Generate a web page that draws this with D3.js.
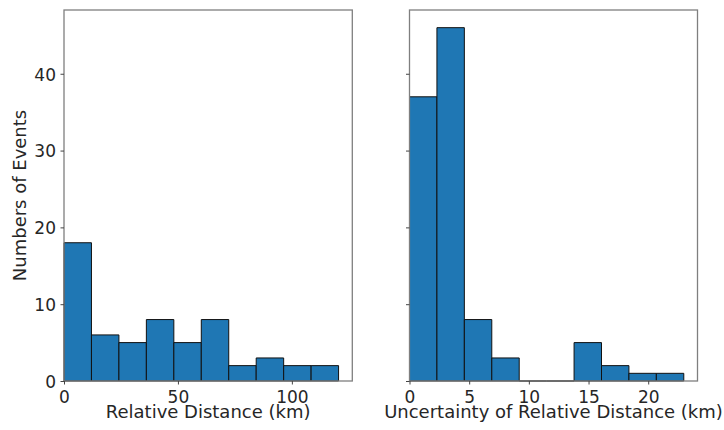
<!DOCTYPE html>
<html>
<head>
<meta charset="utf-8">
<script src="https://cdn.jsdelivr.net/npm/d3@7"></script>
<style>
  html, body { margin: 0; padding: 0; background: #fff; }
  svg { display: block; }
  text { font-family: "DejaVu Sans", sans-serif; fill: #262626; }
</style>
</head>
<body>
<svg id="chart" width="724" height="430"></svg>
<script>
// ---- data ----
const distEdges = [0, 12.05, 24.1, 36.15, 48.2, 60.25, 72.3, 84.35, 96.4, 108.45, 120.5];
const distCounts = [18, 6, 5, 8, 5, 8, 2, 3, 2, 2];
const uncEdges = [0, 2.298, 4.596, 6.894, 9.192, 11.49, 13.788, 16.086, 18.384, 20.682, 22.98];
const uncCounts = [37, 46, 8, 3, 0, 0, 5, 2, 1, 1];
const distTicks = [0, 50, 100];
const uncTicks = [0, 5, 10, 15, 20];
const yTicks = [0, 10, 20, 30, 40];
const yLabel = "Numbers of Events";
const distLabel = "Relative Distance (km)";
const uncLabel = "Uncertainty of Relative Distance (km)";

const svg = d3.select("#chart");
const plotTop = 10, plotBottom = 381;
const tickFont = 17, labelFont = 18;
const yMax = d3.max(uncCounts.concat(distCounts)) * 1.05;
const y = d3.scaleLinear().domain([0, yMax]).range([plotBottom, plotTop]);

function panel(left, right, edges, counts, ticks, label, showYLabels) {
  const xMax = edges[edges.length - 1] * 1.05;
  const x = d3.scaleLinear().domain([0, xMax]).range([left, right]);
  const g = svg.append("g");
  const bins = counts.map((c, i) => ({ x0: edges[i], x1: edges[i + 1], c }));
  g.selectAll("path.bar").data(bins).join("path")
    .attr("class", "bar")
    .attr("d", d => `M${x(d.x0)},${y(0)}V${y(d.c)}H${x(d.x1)}V${y(0)}Z`)
    .attr("fill", "#1f77b4")
    .attr("stroke", "#111")
    .attr("stroke-width", 1);

  // frame
  g.append("rect")
    .attr("x", left).attr("y", plotTop)
    .attr("width", right - left).attr("height", plotBottom - plotTop)
    .attr("fill", "none").attr("stroke", "#7f7f7f").attr("stroke-width", 1.3);

  const xAxis = d3.axisBottom(x).tickValues(ticks).tickSize(3.5).tickPadding(3.5).tickFormat(d3.format("d"));
  const gx = g.append("g").attr("transform", `translate(0,${plotBottom})`).call(xAxis);
  gx.select(".domain").remove();
  gx.selectAll(".tick line").attr("stroke", "#444");
  gx.selectAll(".tick text").attr("font-size", tickFont).attr("fill", "#262626")
    .attr("font-family", "DejaVu Sans, sans-serif").attr("y", 21.7).attr("dy", 0);

  const yAxis = d3.axisLeft(y).tickValues(yTicks).tickSize(3.5).tickPadding(4.5)
    .tickFormat(showYLabels ? d3.format("d") : () => "");
  const gy = g.append("g").attr("transform", `translate(${left},0)`).call(yAxis);
  gy.select(".domain").remove();
  gy.selectAll(".tick line").attr("stroke", "#444");
  gy.selectAll(".tick text").attr("font-size", tickFont).attr("fill", "#262626")
    .attr("font-family", "DejaVu Sans, sans-serif").attr("dy", "0.37em");

  g.append("text")
    .attr("x", (left + right) / 2).attr("y", 418)
    .attr("text-anchor", "middle").attr("font-size", labelFont)
    .text(label);
}

panel(64, 352.3, distEdges, distCounts, distTicks, distLabel, true);
panel(409.5, 697.5, uncEdges, uncCounts, uncTicks, uncLabel, false);

svg.append("text")
  .attr("transform", `translate(26,${(plotTop + plotBottom) / 2}) rotate(-90)`)
  .attr("text-anchor", "middle").attr("font-size", labelFont)
  .text(yLabel);
</script>
</body>
</html>
